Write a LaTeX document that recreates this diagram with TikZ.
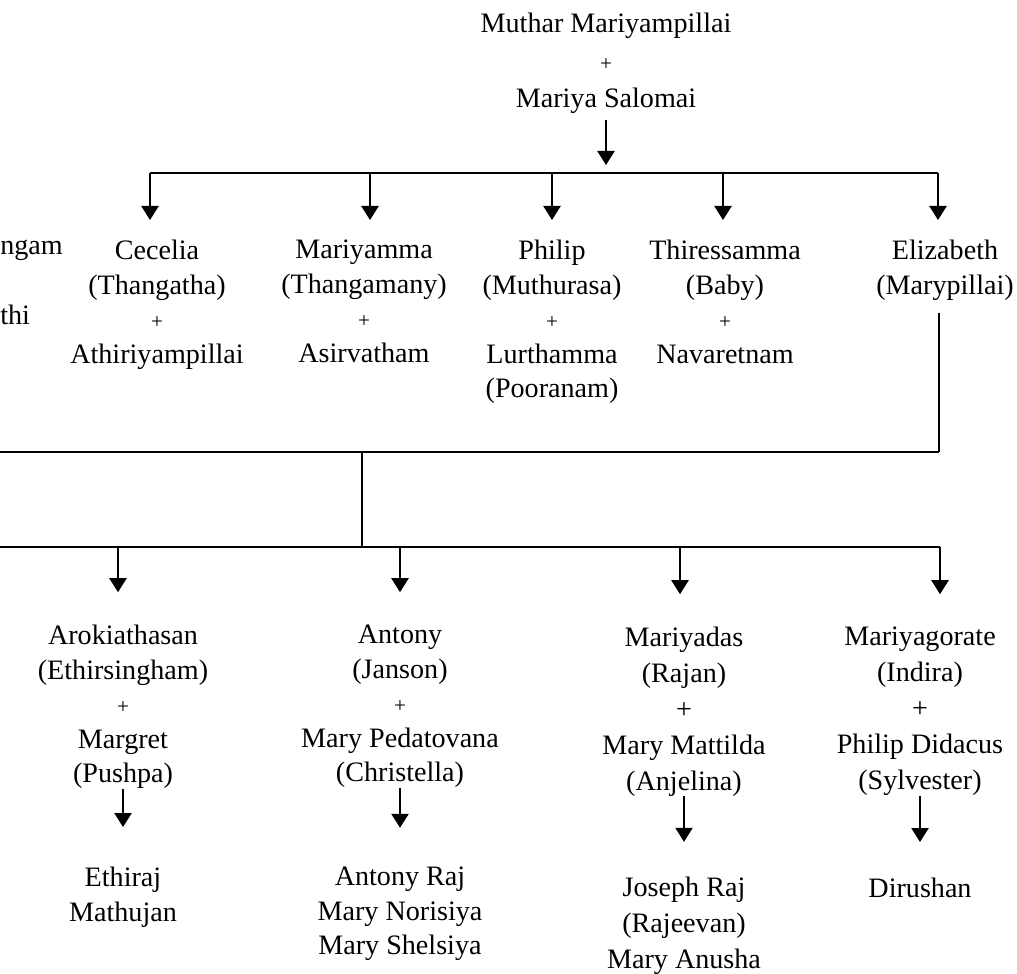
\documentclass[tikz,border=0pt]{standalone}
\usepackage{fontspec}
\setmainfont{Liberation Serif}
\usetikzlibrary{arrows.meta}
\newcommand{\plus}{{\fontsize{15}{17}\selectfont +}}
\tikzset{
  person/.style={align=center,anchor=north,inner sep=0pt,font=\fontsize{20}{24.5}\selectfont},
  wide/.style={font=\fontsize{20}{25.5}\selectfont},
  bus/.style={line width=1.8pt},
  stem/.style={line width=1.2pt},
  arr/.style={line width=1.2pt,-{Triangle[width=4.3mm,length=3.5mm]}},
}
\begin{document}
\begin{tikzpicture}[x=0.25mm,y=-0.25mm]
\useasboundingbox (0,0) rectangle (1017,973);
% parents
\node[person,font=\fontsize{20}{26.5}\selectfont] (mm) at (606,13) {Muthar Mariyampillai\\\plus\\Mariya Salomai};
% first generation
\node[person,anchor=north west] (lft) at (0,240) {ngam};
\node[person,anchor=north west] (lft2) at (0,305) {thi};
\node[person] (cec) at (157,240) {Cecelia\\(Thangatha)\\\plus\\Athiriyampillai};
\node[person] (mya) at (364,240) {Mariyamma\\(Thangamany)\\\plus\\Asirvatham};
\node[person] (phi) at (552,240) {Philip\\(Muthurasa)\\\plus\\Lurthamma\\(Pooranam)};
\node[person] (thr) at (725,240) {Thiressamma\\(Baby)\\\plus\\Navaretnam};
\node[person] (eli) at (945,240) {Elizabeth\\(Marypillai)};
% second generation
\node[person] (aro) at (123,625) {Arokiathasan\\(Ethirsingham)\\\plus\\Margret\\(Pushpa)};
\node[person] (ant) at (400,625) {Antony\\(Janson)\\\plus\\Mary Pedatovana\\(Christella)};
\node[person,wide] (mds) at (684,627) {Mariyadas\\(Rajan)\\+\\Mary Mattilda\\(Anjelina)};
\node[person,wide] (mgr) at (920,627) {Mariyagorate\\(Indira)\\+\\Philip Didacus\\(Sylvester)};
% third generation
\node[person] (aroK) at (123,867) {Ethiraj\\Mathujan};
\node[person] (antK) at (400,867) {Antony Raj\\Mary Norisiya\\Mary Shelsiya};
\node[person,wide] (mdsK) at (684,877) {Joseph Raj\\(Rajeevan)\\Mary Anusha};
\node[person] (mgrK) at (920,878) {Dirushan};
% bus points
\coordinate (t0) at (606,173);
\coordinate (t1) at (150,173);
\coordinate (t2) at (370,173);
\coordinate (t3) at (552,173);
\coordinate (t4) at (723,173);
\coordinate (t5) at (938,173);
\coordinate (w2) at (0,452);
\coordinate (e2) at (939,452);
\coordinate (m2) at (362,452);
\coordinate (m3) at (362,547);
\coordinate (w3) at (0,547);
\coordinate (g0) at (940,547);
\coordinate (d1) at (118,547);
\coordinate (d2) at (400,547);
\coordinate (d3) at (680,547);
\coordinate (d4) at (940,547);
% connectors
\draw[arr,shorten <=1.5mm,shorten >=2mm] (mm) -- (t0);
\draw[bus] (t1) -- (t5);
\draw[arr,shorten >=5mm] (t1) -- (t1 |- cec.north);
\draw[arr,shorten >=5mm] (t2) -- (t2 |- mya.north);
\draw[arr,shorten >=5mm] (t3) -- (t3 |- phi.north);
\draw[arr,shorten >=5mm] (t4) -- (t4 |- thr.north);
\draw[arr,shorten >=5mm] (t5) -- (t5 |- eli.north);
\draw[stem,shorten <=3mm] (e2 |- eli.south) -- (e2);
\draw[bus] (w2) -- (e2);
\draw[stem] (m2) -- (m3);
\draw[bus] (w3) -- (g0);
\draw[arr,shorten >=8.2mm] (d1) -- (d1 |- aro.north);
\draw[arr,shorten >=8.2mm] (d2) -- (d2 |- ant.north);
\draw[arr,shorten >=8.2mm] (d3) -- (d3 |- mds.north);
\draw[arr,shorten >=8.2mm] (d4) -- (d4 |- mgr.north);
\draw[arr,shorten >=10mm] (aro) -- (aroK);
\draw[arr,shorten >=9.8mm] (ant) -- (antK);
\draw[arr,shorten >=8.8mm] (mds) -- (mdsK);
\draw[arr,shorten >=9mm] (mgr) -- (mgrK);
\end{tikzpicture}
\end{document}
